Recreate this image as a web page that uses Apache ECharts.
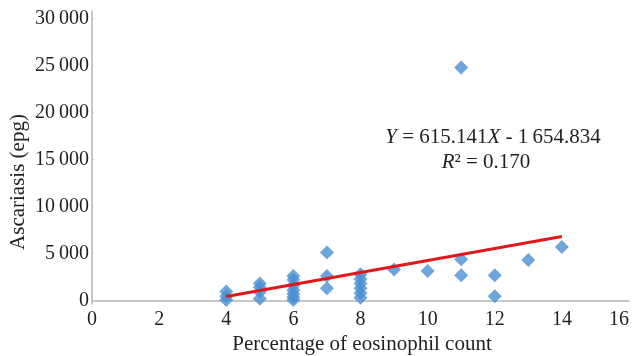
<!DOCTYPE html>
<html>
<head>
<meta charset="utf-8">
<script src="https://cdn.jsdelivr.net/npm/echarts@6/dist/echarts.min.js"></script>
<style>html,body{margin:0;padding:0;background:#fff}#c{width:636px;height:356px}</style>
</head>
<body>
<div id="c"></div>
<script>
// Scatter data: eosinophil percentage (x) and ascariasis epg (y)
const pointX = [4,4,4, 5,5,5,5, 6,6,6,6,6,6,6, 7,7,7, 8,8,8,8,8,8, 9, 10, 11,11,11, 12,12, 13, 14];
const pointY = [950,450,50, 1800,1400,900,200, 2600,2200,1600,1100,700,350,50, 5100,2600,1300, 2800,2300,1800,1300,800,300, 3300, 3150, 24800,4400,2700, 2700,450, 4300, 5700];
// Trend line endpoints as drawn
const trendX = [4, 14];
const trendY = [420, 6800];
const xTicks = [0,2,4,6,8,10,12,14,16];
const yTicks = [0,5000,10000,15000,20000,25000,30000];
const xTitle = 'Percentage of eosinophil count';
const yTitle = 'Ascariasis (epg)';
const eqLine1 = ['Y', ' = 615.141', 'X', ' - 1\u2009654.834'];
const eqLine2 = ['R', '\u00b2 = 0.170'];

const FONT = '"Liberation Serif","DejaVu Serif",serif';
const TXT = '#231f20';
const fmtY = v => {
  const s = String(v);
  if (v >= 1000) return s.slice(0, s.length - 3) + '\u2009' + s.slice(s.length - 3);
  return s;
};

const chart = echarts.init(document.getElementById('c'), null, {renderer: 'canvas'});
chart.setOption({
  animation: false,
  backgroundColor: '#fff',
  grid: {left: 92, right: 7, top: 11, bottom: 52, containLabel: false},
  xAxis: {
    type: 'value', min: 0, max: 16, interval: 2,
    axisLine: {show: true, lineStyle: {color: '#b5b5b5', width: 1.5}},
    axisTick: {show: false},
    splitLine: {show: false},
    axisLabel: {
      color: TXT, fontFamily: FONT, fontSize: 20, margin: 6,
      customValues: xTicks, alignMaxLabel: 'right'
    }
  },
  yAxis: {
    type: 'value', min: -370, max: 30800,
    axisLine: {show: true, lineStyle: {color: '#b5b5b5', width: 1.5}},
    axisTick: {show: true, inside: true, length: 2, lineStyle: {color: '#c8c8c8'}, customValues: yTicks},
    splitLine: {show: false},
    axisLabel: {
      color: TXT, fontFamily: FONT, fontSize: 20, margin: 3,
      customValues: yTicks, formatter: fmtY
    }
  },
  series: [
    {
      type: 'scatter',
      symbol: 'diamond',
      symbolSize: 14,
      itemStyle: {color: '#4a8fd2'},
      data: pointX.map((x, i) => [x, pointY[i]]),
      z: 2
    },
    {
      type: 'line',
      data: trendX.map((x, i) => [x, trendY[i]]),
      showSymbol: false,
      lineStyle: {color: '#e0181c', width: 3},
      z: 3
    }
  ],
  graphic: [
    {
      type: 'text', x: 18, y: 182, rotation: Math.PI / 2,
      style: {text: yTitle, fill: TXT, font: '21px ' + FONT, align: 'center', verticalAlign: 'middle'}
    },
    {
      type: 'text', x: 362, y: 344,
      style: {text: xTitle, fill: TXT, font: '21px ' + FONT, align: 'center', verticalAlign: 'middle'}
    },
    {
      type: 'text', x: 493, y: 137,
      style: {
        text: '{i|' + eqLine1[0] + '}{n|' + eqLine1[1] + '}{i|' + eqLine1[2] + '}{n|' + eqLine1[3] + '}',
        align: 'center', verticalAlign: 'middle',
        rich: {
          i: {fontFamily: FONT, fontSize: 21, fontStyle: 'italic', fill: TXT, color: TXT},
          n: {fontFamily: FONT, fontSize: 21, fill: TXT, color: TXT}
        }
      }
    },
    {
      type: 'text', x: 486, y: 162,
      style: {
        text: '{i|' + eqLine2[0] + '}{n|' + eqLine2[1] + '}',
        align: 'center', verticalAlign: 'middle',
        rich: {
          i: {fontFamily: FONT, fontSize: 21, fontStyle: 'italic', fill: TXT, color: TXT},
          n: {fontFamily: FONT, fontSize: 21, fill: TXT, color: TXT}
        }
      }
    }
  ]
});
</script>
</body>
</html>
